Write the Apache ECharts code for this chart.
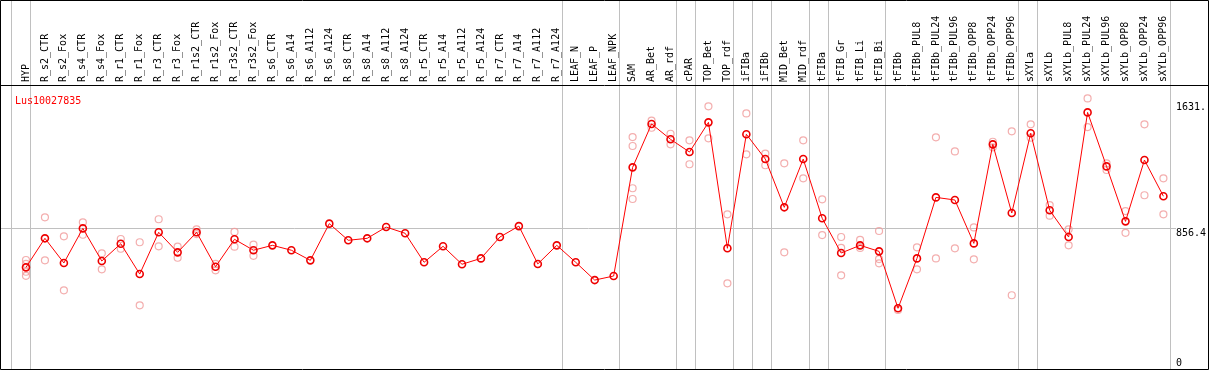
<!DOCTYPE html>
<html><head><meta charset="utf-8">
<script src="https://cdn.jsdelivr.net/npm/echarts@6/dist/echarts.min.js"></script>
<style>html,body{margin:0;padding:0;background:#fff}#c{width:1209px;height:370px}</style>
</head><body><div id="c"></div>
<script>
const categories = ["HYP","R_s2_CTR","R_s2_Fox","R_s4_CTR","R_s4_Fox","R_r1_CTR","R_r1_Fox","R_r3_CTR","R_r3_Fox","R_r1s2_CTR","R_r1s2_Fox","R_r3s2_CTR","R_r3s2_Fox","R_s6_CTR","R_s6_A14","R_s6_A112","R_s6_A124","R_s8_CTR","R_s8_A14","R_s8_A112","R_s8_A124","R_r5_CTR","R_r5_A14","R_r5_A112","R_r5_A124","R_r7_CTR","R_r7_A14","R_r7_A112","R_r7_A124","LEAF_N","LEAF_P","LEAF_NPK","SAM","AR_Bet","AR_rdf","cPAR","TOP_Bet","TOP_rdf","iFIBa","iFIBb","MID_Bet","MID_rdf","tFIBa","tFIB_Gr","tFIB_Li","tFIB_Bi","tFIBb","tFIBb_PUL8","tFIBb_PUL24","tFIBb_PUL96","tFIBb_OPP8","tFIBb_OPP24","tFIBb_OPP96","sXYLa","sXYLb","sXYLb_PUL8","sXYLb_PUL24","sXYLb_PUL96","sXYLb_OPP8","sXYLb_OPP24","sXYLb_OPP96"];
const meanValues = [617,795,644,856,656,762,576,832,709,832,621,789,722,752,722,660,885,783,795,864,826,648,746,636,672,803,870,638,752,648,539,564,1230,1496,1402,1324,1506,734,1433,1281,985,1281,918,705,752,715,366,672,1046,1030,764,1371,950,1439,967,803,1567,1236,899,1275,1053];
const N = null;
const rep1 = [662,924,807,893,703,791,771,912,744,850,638,834,756,N,N,N,N,N,N,N,N,N,N,N,N,N,N,N,N,N,N,N,1416,1516,1436,1396,1604,942,1561,1314,1255,1396,1034,803,785,840,356,740,1414,1328,862,1387,1451,1494,999,850,1653,1255,962,1494,1163];
const rep2 = [638,660,476,817,605,731,384,746,676,821,599,744,688,N,N,N,N,N,N,N,N,N,N,N,N,N,N,N,N,N,N,N,1361,1473,1371,1249,1408,519,1310,1243,709,1163,815,736,736,668,N,605,672,734,666,1353,446,1412,934,752,1477,1214,829,1059,942];
const rep3 = [590,N,N,N,N,N,N,N,N,N,N,N,N,N,N,N,N,N,N,N,N,N,N,N,N,N,N,N,N,N,N,N,1102,N,N,N,N,N,N,N,N,N,N,568,N,642,N,N,N,N,N,N,N,N,N,N,N,N,N,N,N];
const rep4 = [565,N,N,N,N,N,N,N,N,N,N,N,N,N,N,N,N,N,N,N,N,N,N,N,N,N,N,N,N,N,N,N,1036,N,N,N,N,N,N,N,N,N,N,N,N,N,N,N,N,N,N,N,N,N,N,N,N,N,N,N,N];
const groupEnds = [-1,0,28,31,34,35,37,38,39,41,42,45,52,53,60];
const yTickLabels = {"1631": "1631.", "856.4": "856.4", "0": "0"};
const refValue = 856.4;
const title = "Lus10027835";

const FONT = "DejaVu Sans Mono";
const chart = echarts.init(document.getElementById('c'), null, {renderer: 'canvas'});
const repStyle = {color: 'transparent', borderColor: '#f09a9a', borderWidth: 1.2};
function repSeries(arr) {
  return {type: 'scatter', xAxisIndex: 0, yAxisIndex: 0, symbol: 'circle', symbolSize: 7,
    itemStyle: repStyle, silent: true, z: 2, data: arr};
}
const option = {
  animation: false,
  title: {text: title, left: 10, top: 91, textStyle: {color: '#ff0000', fontSize: 10, fontFamily: FONT, fontWeight: 'normal'}},
  grid: [
    {left: 16.5, width: 1159, top: 85, bottom: 2},
    {left: 7, width: 1168.5, top: 0, bottom: 0}
  ],
  xAxis: [
    {type: 'category', gridIndex: 0, data: categories, position: 'top', boundaryGap: true,
      axisLine: {show: false}, axisTick: {show: false}, splitLine: {show: false},
      axisLabel: {interval: 0, rotate: 90, margin: 3, color: '#000', fontSize: 10, fontFamily: FONT}},
    {type: 'value', gridIndex: 1, min: -1, max: categories.length - 0.5, show: false}
  ],
  yAxis: [
    {type: 'value', gridIndex: 0, min: 0, max: 1735, position: 'right',
      axisLine: {show: false}, axisTick: {show: false}, splitLine: {show: false},
      axisLabel: {customValues: [1631, 856.4], verticalAlign: 'top', margin: 3, color: '#000', fontSize: 10, fontFamily: FONT,
        formatter: v => yTickLabels[String(v)] || String(v)}},
    {type: 'value', gridIndex: 0, min: 0, max: 1735, position: 'right',
      axisLine: {show: false}, axisTick: {show: false}, splitLine: {show: false},
      axisLabel: {customValues: [0], verticalAlign: 'bottom', margin: 3, color: '#000', fontSize: 10, fontFamily: FONT,
        formatter: v => yTickLabels[String(v)] || String(v)}},
    {type: 'value', gridIndex: 1, min: 0, max: 1, show: false}
  ],
  series: [
    {type: 'scatter', xAxisIndex: 1, yAxisIndex: 2, data: [[-0.5, 0]], symbolSize: 0, silent: true,
      itemStyle: {opacity: 0},
      markLine: {silent: true, symbol: ['none', 'none'], label: {show: false},
        lineStyle: {color: '#c0c0c0', width: 1, type: 'solid'},
        data: groupEnds.map(i => ({xAxis: i + 0.2}))}},
    repSeries(rep1), repSeries(rep2), repSeries(rep3), repSeries(rep4),
    {type: 'line', xAxisIndex: 0, yAxisIndex: 0, data: meanValues, symbol: 'circle', symbolSize: 7,
      showAllSymbol: true, silent: true, z: 5,
      lineStyle: {color: '#ff0000', width: 1},
      itemStyle: {color: 'transparent', borderColor: '#ee0000', borderWidth: 1.6}}
  ]
};
chart.setOption(option);
const yRef = chart.convertToPixel({yAxisIndex: 0}, refValue);
chart.setOption({graphic: [
  {type: 'line', silent: true, z: 1, shape: {x1: 1, y1: Math.round(yRef) + 0.5, x2: 1176, y2: Math.round(yRef) + 0.5}, style: {stroke: '#c0c0c0', lineWidth: 1}},
  {type: 'rect', silent: true, z: 10, shape: {x: 0.5, y: 0.5, width: 1208, height: 369}, style: {fill: 'none', stroke: '#000', lineWidth: 1}},
  {type: 'line', silent: true, z: 10, shape: {x1: 0, y1: 85.5, x2: 1209, y2: 85.5}, style: {stroke: '#000', lineWidth: 1}}
]});
</script></body></html>
